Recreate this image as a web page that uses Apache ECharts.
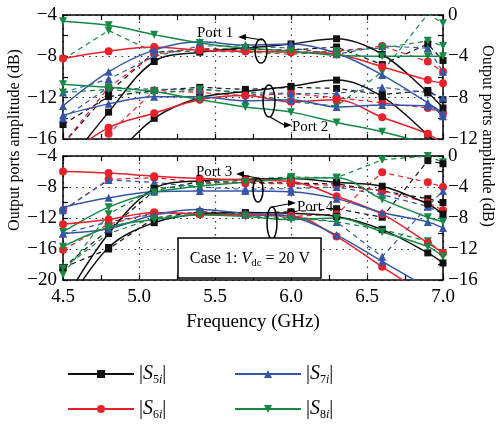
<!DOCTYPE html>
<html>
<head>
<meta charset="utf-8">
<script src="https://cdn.jsdelivr.net/npm/echarts@6/dist/echarts.min.js"></script>
<style>html,body{margin:0;padding:0;background:#fff}#c{width:500px;height:430px}</style>
</head>
<body>
<div id="c"></div>
<script>
// Frequency points (GHz)
const freq = [4.5, 4.8, 5.1, 5.4, 5.7, 6.0, 6.3, 6.6, 6.9, 7.0];
// Axis ticks
const topLeftTicks = [-16, -4];
const topRightTicks = [-12, 0];
const botLeftTicks = [-20, -4];
const botRightTicks = [-16, 0];

// Top panel, Port 1 (left axis, dB)
const p1_s5 = [-19, -13.4, -8.5, -7.6, -7.2, -6.8, -6.3, -7.8, -11.5, -13];
const p1_s5d = [-16.5, -11.5, -7.6, -7.3, -7.3, -7.4, -7.1, -8.8, -6.8, -8.4];
const p1_s6 = [-8.2, -7.5, -7.1, -7.4, -7.5, -7.6, -7.8, -9.0, -10.3, -10.6];
const p1_s6d = [-16.5, -11.0, -7.8, -7.2, -7.5, -7.6, -7.5, -7.0, -8.5, -9.5];
const p1_s7 = [-12.8, -9.5, -7.4, -6.6, -6.9, -6.8, -7.7, -9.8, -12.5, -13.5];
const p1_s7d = [-11.5, -10.2, -8.0, -7.0, -7.0, -7.2, -7.8, -7.0, -7.2, -9.5];
const p1_s8 = [-4.6, -5.0, -5.9, -6.7, -7.2, -7.5, -7.9, -8.0, -8.0, -8.0];
const p1_s8d = [-8.3, -5.5, -7.6, -7.5, -7.6, -7.8, -7.5, -7.2, -6.5, -7.0];
// Top panel, Port 2 (right axis, dB)
const p2_s5 = [-20, -14.5, -10.0, -8.0, -7.4, -6.9, -6.3, -7.9, -11.6, -13];
const p2_s5d = [-10.6, -7.9, -7.3, -7.0, -7.2, -7.0, -7.1, -7.7, -7.3, -8.2];
const p2_s6 = [-14, -10.9, -9.5, -8.2, -7.8, -8.4, -8.2, -9.9, -11.5, -12.5];
const p2_s6d = [-16, -11.5, -7.3, -7.5, -7.8, -7.6, -8.0, -8.5, -9.0, -9.5];
const p2_s7 = [-9.7, -8.6, -7.9, -7.9, -8.3, -8.2, -8.9, -8.7, -8.8, -9.8];
const p2_s7d = [-10.0, -7.0, -7.2, -7.2, -7.5, -7.6, -7.6, -7.0, -7.5, -8.0];
const p2_s8 = [-6.7, -7.0, -7.4, -8.2, -8.9, -9.4, -10.4, -11.3, -12.5, -13];
const p2_s8d = [-7.5, -7.2, -7.6, -7.2, -7.5, -8.4, -8.8, -5.5, 0.1, -0.8];
// Bottom panel, Port 3 (left axis, dB)
const p3_s5 = [-23, -14, -8.2, -7.2, -7.0, -6.9, -7.4, -7.9, -10.2, -11.5];
const p3_s5d = [-18.4, -13.5, -8.5, -7.3, -7.4, -7.5, -7.6, -8.5, -9.5, -10.0];
const p3_s6 = [-6.0, -6.2, -6.6, -6.9, -7.1, -7.3, -9.2, -11.5, -15.2, -16.5];
const p3_s6d = [-11.0, -7.0, -6.8, -7.4, -7.5, -7.6, -7.8, -8.5, -10, -11];
const p3_s7 = [-10.6, -9.4, -8.6, -8.5, -8.5, -8.6, -9.5, -11.3, -12.5, -13.3];
const p3_s7d = [-11.0, -7.1, -7.4, -8.0, -8.3, -8.2, -8.0, -9.0, -10.5, -11.5];
const p3_s8 = [-13.8, -10.6, -8.7, -7.9, -7.4, -6.9, -6.8, -9.6, -11.9, -12.5];
const p3_s8d = [-19.3, -11.5, -8.2, -7.7, -7.0, -6.7, -6.8, -4.5, -4.0, -4.8];
// Bottom panel, Port 4 (right axis, dB)
const p4_s5 = [-20, -11.8, -8.6, -7.5, -7.3, -7.4, -7.8, -9.5, -12.5, -13.8];
const p4_s5d = [-14.4, -12, -8, -7.2, -7.4, -7.2, -6.8, -7.9, -0.6, -1.0];
const p4_s6 = [-8.8, -8.2, -7.3, -7.5, -7.6, -7.7, -10.4, -14.3, -18, -19];
const p4_s6d = [-12.1, -8.8, -7.3, -7.4, -7.6, -7.8, -7.5, -2.1, -3.4, -4.0];
const p4_s7 = [-10.0, -9.4, -7.6, -6.9, -7.4, -7.8, -10.2, -13.6, -17, -18];
const p4_s7d = [-10.0, -8.5, -7.5, -7.3, -7.6, -7.8, -8.5, -13.0, -6.5, -4.5];
const p4_s8 = [-11.7, -9.2, -8.2, -7.6, -7.8, -8.2, -8.0, -9.8, -11.7, -13];
const p4_s8d = [-14.5, -10.0, -8.0, -7.5, -7.7, -8.0, -8.5, -9.5, -11, -12.5];

const FONT = "'Liberation Serif','DejaVu Serif',serif";
const C = {S5:'#111111', S6:'#e8212b', S7:'#3556a8', S8:'#148a45'};
const SYM = {S5:'rect', S6:'circle', S7:'triangle', S8:'path://M0,0 L10,0 L5,9 Z'};
const SZ = {S5:7, S6:8, S7:8, S8:8};

function mk(name, vals, dashed, xi, yi) {
  return {
    name: name, type: 'line', xAxisIndex: xi, yAxisIndex: yi,
    data: freq.map((f, i) => [f, vals[i]]),
    smooth: dashed ? false : 0.35,
    symbol: SYM[name], symbolSize: SZ[name], showSymbol: true,
    lineStyle: {color: C[name], width: dashed ? 1.2 : 1.5, type: dashed ? [5, 4] : 'solid'},
    itemStyle: {color: C[name]},
    clip: true, z: dashed ? 2 : 3, silent: true
  };
}
const series = [
  mk('S5', p1_s5, false, 0, 0), mk('S6', p1_s6, false, 0, 0), mk('S7', p1_s7, false, 0, 0), mk('S8', p1_s8, false, 0, 0),
  mk('S5', p2_s5, false, 0, 1), mk('S6', p2_s6, false, 0, 1), mk('S7', p2_s7, false, 0, 1), mk('S8', p2_s8, false, 0, 1),
  mk('S5', p3_s5, false, 2, 2), mk('S6', p3_s6, false, 2, 2), mk('S7', p3_s7, false, 2, 2), mk('S8', p3_s8, false, 2, 2),
  mk('S5', p4_s5, false, 2, 3), mk('S6', p4_s6, false, 2, 3), mk('S7', p4_s7, false, 2, 3), mk('S8', p4_s8, false, 2, 3),
  mk('S5', p1_s5d, true, 0, 0), mk('S6', p1_s6d, true, 0, 0), mk('S7', p1_s7d, true, 0, 0), mk('S8', p1_s8d, true, 0, 0),
  mk('S5', p2_s5d, true, 0, 1), mk('S6', p2_s6d, true, 0, 1), mk('S7', p2_s7d, true, 0, 1), mk('S8', p2_s8d, true, 0, 1),
  mk('S5', p3_s5d, true, 2, 2), mk('S6', p3_s6d, true, 2, 2), mk('S7', p3_s7d, true, 2, 2), mk('S8', p3_s8d, true, 2, 2),
  mk('S5', p4_s5d, true, 2, 3), mk('S6', p4_s6d, true, 2, 3), mk('S7', p4_s7d, true, 2, 3), mk('S8', p4_s8d, true, 2, 3)
];

const minus = v => String(v).replace('-', '\u2212');
const dotted = {show: true, lineStyle: {color: '#333', width: 1.2, type: [1.5, 5]}};
function xAx(grid, pos, labels) {
  return {
    type: 'value', gridIndex: grid, position: pos, min: 4.5, max: 7.0, interval: 0.5,
    axisLine: {show: true, onZero: false, lineStyle: {color: '#000', width: 1.5}},
    axisTick: {show: true, inside: true, length: 5, lineStyle: {color: '#000', width: 1.2}},
    minorTick: {show: true, splitNumber: 2, length: 5, lineStyle: {color: '#000', width: 1.2}},
    axisLabel: {show: labels, color: '#000', fontFamily: FONT, fontSize: 19, margin: 8, formatter: v => v.toFixed(1)},
    splitLine: pos === 'bottom' ? dotted : {show: false},
    name: labels ? 'Frequency (GHz)' : '', nameLocation: 'middle', nameGap: 33,
    nameTextStyle: {color: '#000', fontFamily: FONT, fontSize: 19}
  };
}
function yAx(grid, pos, mn, mx, split) {
  return {
    type: 'value', gridIndex: grid, position: pos, min: mn, max: mx, interval: 4,
    axisLine: {show: true, onZero: false, lineStyle: {color: '#000', width: 1.5}},
    axisTick: {show: true, inside: true, length: 5, lineStyle: {color: '#000', width: 1.2}},
    minorTick: {show: true, splitNumber: 2, length: 5, lineStyle: {color: '#000', width: 1.2}},
    axisLabel: {color: '#000', fontFamily: FONT, fontSize: 19, margin: pos === 'left' ? 6 : 5, formatter: minus, showMinLabel: true, showMaxLabel: true},
    splitLine: split ? dotted : {show: false}
  };
}

const legRich = {
  t: {fontFamily: FONT, fontSize: 20, color: '#000', lineHeight: 26},
  s: {fontFamily: FONT, fontSize: 20, fontStyle: 'italic', color: '#000', lineHeight: 26},
  n: {fontFamily: FONT, fontSize: 12, color: '#000', lineHeight: 26, padding: [12, 0, 0, 0]},
  i: {fontFamily: FONT, fontSize: 12, fontStyle: 'italic', color: '#000', lineHeight: 26, padding: [12, 0, 0, 0]}
};
const legFmt = name => '{t||}{s|S}{n|' + name.slice(1) + '}{i|i}{t||}';

function ellipse(cx, cy, rx, ry) {
  return {type: 'ellipse', shape: {cx: cx, cy: cy, rx: rx, ry: ry}, style: {fill: null, stroke: '#000', lineWidth: 1.5}, z: 100, silent: true};
}
function line(pts) {
  return {type: 'polyline', shape: {points: pts}, style: {stroke: '#000', lineWidth: 1.2, fill: null}, z: 100, silent: true};
}
function head(pts) {
  return {type: 'polygon', shape: {points: pts}, style: {fill: '#000'}, z: 100, silent: true};
}
function txt(x, y, s, size) {
  return {type: 'text', x: x, y: y, style: {text: s, fontFamily: FONT, fontSize: size || 16, fill: '#000', textVerticalAlign: 'middle'}, z: 101, silent: true};
}

const option = {
  animation: false,
  backgroundColor: '#fff',
  grid: [
    {left: 63, right: 57, top: 15, height: 124},
    {left: 63, right: 57, top: 156, height: 124}
  ],
  xAxis: [xAx(0, 'bottom', false), xAx(0, 'top', false), xAx(1, 'bottom', true), xAx(1, 'top', false)],
  yAxis: [
    yAx(0, 'left', topLeftTicks[0], topLeftTicks[1], true),
    yAx(0, 'right', topRightTicks[0], topRightTicks[1], false),
    yAx(1, 'left', botLeftTicks[0], botLeftTicks[1], true),
    yAx(1, 'right', botRightTicks[0], botRightTicks[1], false)
  ],
  legend: [
    {left: 62, top: 357, orient: 'vertical', data: ['S5', 'S6'], itemWidth: 66, itemHeight: 10, itemGap: 11,
     formatter: legFmt, textStyle: {rich: legRich}, selectedMode: false},
    {left: 229, top: 357, orient: 'vertical', data: ['S7', 'S8'], itemWidth: 66, itemHeight: 10, itemGap: 11,
     formatter: legFmt, textStyle: {rich: legRich}, selectedMode: false}
  ],
  graphic: [
    {type: 'text', x: 15, y: 140, rotation: Math.PI / 2, style: {text: 'Output ports amplitude (dB)', fontFamily: FONT, fontSize: 16, fill: '#000', textAlign: 'center', textVerticalAlign: 'middle'}},
    {type: 'text', x: 487, y: 136, rotation: -Math.PI / 2, style: {text: 'Output ports amplitude (dB)', fontFamily: FONT, fontSize: 16, fill: '#000', textAlign: 'center', textVerticalAlign: 'middle'}},
    // Port 1
    txt(197, 33, 'Port 1', 15), line([[262, 40], [244, 37]]), head([[238, 37], [246, 34], [246, 40]]), ellipse(261, 51, 6, 12),
    // Port 2
    ellipse(269, 101, 6, 16), line([[270, 117], [284, 125]]), head([[292, 125], [284, 122], [284, 128]]), txt(292, 127, 'Port 2', 15),
    // Port 3
    txt(196, 172, 'Port 3', 15), line([[257, 178], [242, 175]]), head([[236, 174], [244, 171], [244, 177]]), ellipse(258, 190, 5, 12),
    // Port 4
    ellipse(272, 223, 5, 16), line([[272, 207], [288, 204]]), head([[296, 203], [288, 200], [288, 206]]), txt(297, 207, 'Port 4', 15),
    // Case box
    {type: 'rect', shape: {x: 178, y: 238, width: 143, height: 40}, style: {fill: '#fff', stroke: '#000', lineWidth: 1.5}, z: 100, silent: true},
    {type: 'text', x: 250, y: 259, z: 101, silent: true, style: {
      text: '{a|Case 1: }{v|V}{d|dc}{a| = 20 V}', textAlign: 'center', textVerticalAlign: 'middle',
      rich: {
        a: {fontFamily: FONT, fontSize: 16, fill: '#000', lineHeight: 22},
        v: {fontFamily: FONT, fontSize: 16, fontStyle: 'italic', fill: '#000', lineHeight: 22},
        d: {fontFamily: FONT, fontSize: 11, fill: '#000', lineHeight: 22, padding: [9, 0, 0, 0]}
      }}}
  ],
  series: series
};
const chart = echarts.init(document.getElementById('c'), null, {renderer: 'canvas'});
chart.setOption(option);
</script>
</body>
</html>
